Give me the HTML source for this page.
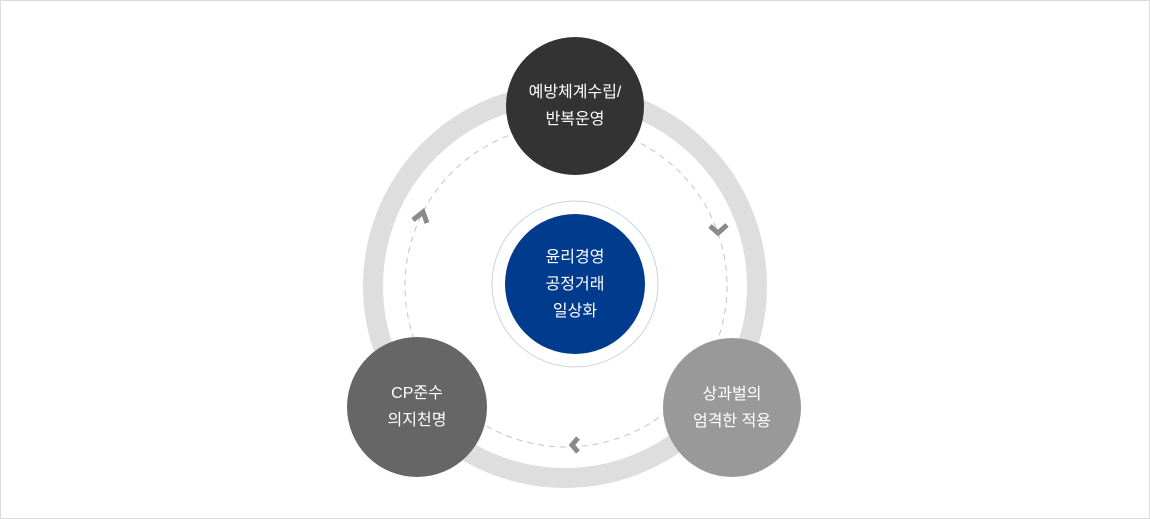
<!DOCTYPE html>
<html><head><meta charset="utf-8"><style>
body{margin:0;width:1150px;height:519px;background:#fff;overflow:hidden}
.f{position:absolute;left:0;top:0;width:1148px;height:517px;border:1px solid #dcdcdc}
.c{position:absolute;border-radius:50%;color:#fff;display:flex;align-items:center;justify-content:center;text-align:center;font-family:"Liberation Sans","Noto Sans CJK KR",sans-serif;font-size:16px;line-height:27px}
</style></head><body>
<div class="f"></div>
<svg width="1150" height="519" style="position:absolute;left:0;top:0">
<circle cx="565" cy="286" r="192" fill="none" stroke="#dedede" stroke-width="20"/>
<circle cx="566" cy="286" r="161" fill="none" stroke="#c4c4c4" stroke-width="1" stroke-dasharray="6 5"/>
<circle cx="575" cy="284" r="83" fill="#fff" stroke="#c9d3e3" stroke-width="1"/>
<g fill="none" stroke="#8a8a8a" stroke-width="5" stroke-linejoin="miter">
<polyline points="413,220 423,212 427,223"/>
<polyline points="710,226 718,233 727,225"/>
<polyline points="578,438 572,445 578,452"/>
</g>
</svg>
<div class="c" style="left:506px;top:37px;width:138px;height:138px;background:#333">예방체계수립/<br>반복운영</div>
<div class="c" style="left:505px;top:214px;width:140px;height:140px;background:#003b8e">윤리경영<br>공정거래<br>일상화</div>
<div class="c" style="left:347px;top:337px;width:140px;height:140px;background:#666">CP준수<br>의지천명</div>
<div class="c" style="left:663px;top:338px;width:138px;height:139px;background:#999">상과벌의<br>엄격한 적용</div>
</body></html>
